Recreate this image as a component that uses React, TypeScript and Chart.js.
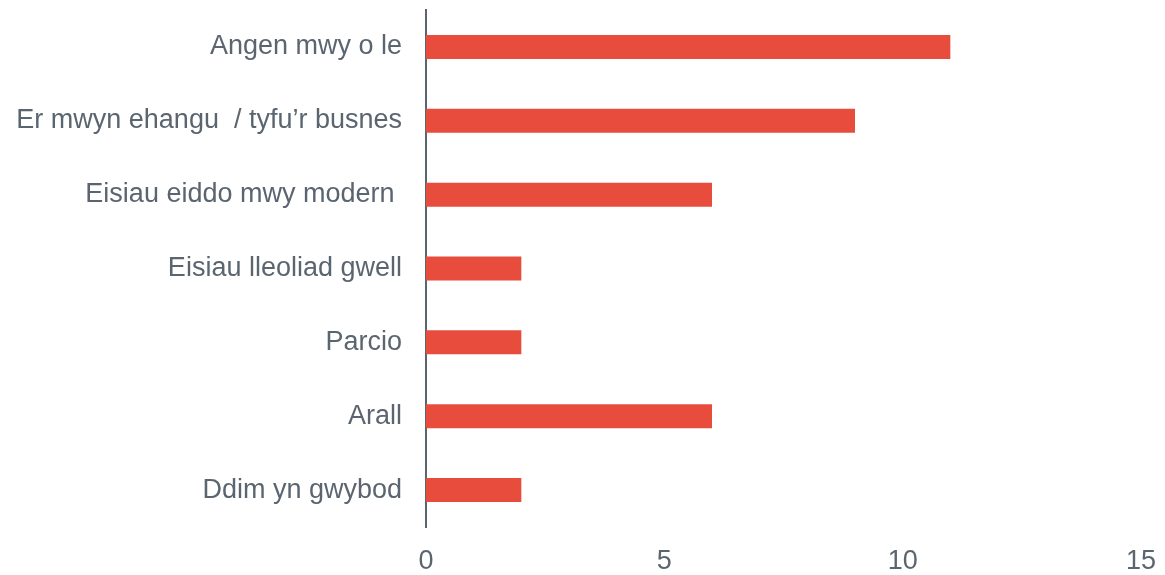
import React, { useEffect, useRef } from "react";
import { Chart, registerables } from "chart.js";

Chart.register(...registerables);

const categories = [
  "Angen mwy o le",
  "Er mwyn ehangu  / tyfu’r busnes",
  "Eisiau eiddo mwy modern ",
  "Eisiau lleoliad gwell",
  "Parcio",
  "Arall",
  "Ddim yn gwybod",
];
const values = [11, 9, 6, 2, 2, 6, 2];
const xTicks = [0, 5, 10, 15];

const TEXT = "#5b6570";
const BAR = "#E84C3D";

export default function App() {
  const ref = useRef<HTMLCanvasElement | null>(null);
  useEffect(() => {
    document.body.style.margin = "0";
    const ctx = ref.current!;
    const chart = new Chart(ctx, {
      type: "bar",
      data: {
        labels: categories,
        datasets: [
          {
            data: values,
            backgroundColor: BAR,
            borderWidth: 0,
            barPercentage: 0.65,
            categoryPercentage: 0.5,
          },
        ],
      },
      options: {
        indexAxis: "y",
        animation: false,
        responsive: false,
        maintainAspectRatio: false,
        layout: { padding: { top: 10, right: 24, left: 0, bottom: 0 } },
        plugins: { legend: { display: false }, tooltip: { enabled: false } },
        scales: {
          x: {
            min: 0,
            max: 15,
            afterBuildTicks: (s: any) => {
              s.ticks = xTicks.map((v) => ({ value: v }));
            },
            afterFit: (s: any) => {
              s.height = 48;
              s.paddingLeft = 0;
              s.paddingRight = 0;
            },
            grid: { display: false, drawTicks: false },
            border: { display: false },
            ticks: {
              color: TEXT,
              padding: 18,
              font: { family: "'Liberation Sans', Arial, sans-serif", size: 27 },
            },
          },
          y: {
            afterFit: (s: any) => {
              s.width = 426;
              s.paddingTop = 0;
              s.paddingBottom = 0;
            },
            grid: { display: false, drawTicks: false },
            border: { display: true, color: TEXT, width: 2 },
            ticks: {
              color: TEXT,
              padding: 24,
              autoSkip: false,
              font: { family: "'Liberation Sans', Arial, sans-serif", size: 27 },
            },
          },
        },
      },
    });
    return () => chart.destroy();
  }, []);
  return <canvas ref={ref} width={1165} height={575} style={{ display: "block" }} />;
}
